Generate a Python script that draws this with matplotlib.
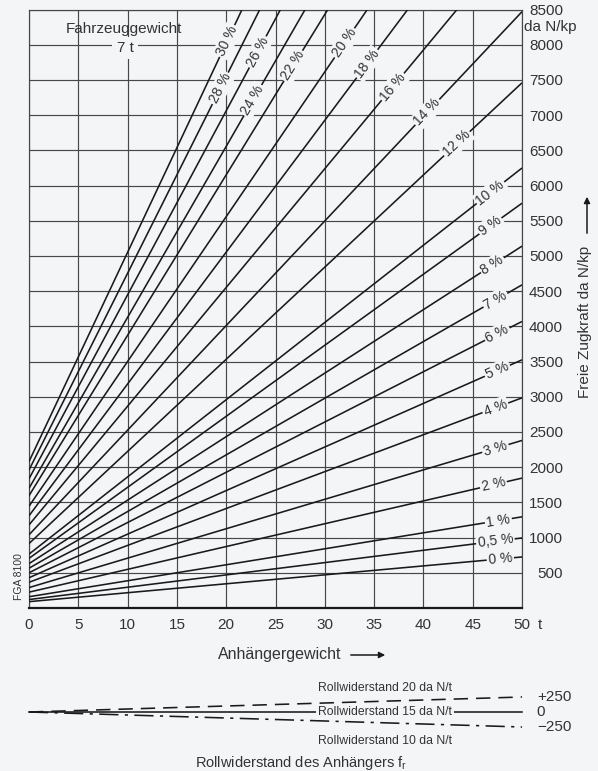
import matplotlib
matplotlib.use('Agg')
import matplotlib.pyplot as plt
import numpy as np

plt.rcParams['font.family'] = ['Liberation Sans', 'DejaVu Sans']

# gradient lines: force at trailer weight 0 and the point where each line ends
grade_labels = ['0 %', '0,5 %', '1 %', '2 %', '3 %', '4 %', '5 %', '6 %', '7 %',
                '8 %', '9 %', '10 %', '12 %', '14 %', '16 %', '18 %', '20 %',
                '22 %', '24 %', '26 %', '28 %', '30 %']
force_at_zero = [90, 120, 160, 225, 290, 365, 430, 500, 565, 630, 705, 765,
                 915, 1040, 1180, 1310, 1445, 1595, 1700, 1835, 1960, 2080]
end_weight = [50, 50, 50, 50, 50, 50, 50, 50, 50, 50, 50, 50, 50, 50,
              43.4, 38.4, 34.3, 30.3, 28.0, 25.5, 23.4, 21.6]
end_force = [725, 995, 1295, 1845, 2380, 2985, 3525, 4070, 4590, 5140, 5750,
             6250, 7460, 8470, 8500, 8500, 8500, 8500, 8500, 8500, 8500, 8500]

# trailer rolling resistance correction (da N at 50 t)
roll_labels = ['Rollwiderstand 20 da N/t', 'Rollwiderstand 15 da N/t',
               'Rollwiderstand 10 da N/t']
roll_correction = [250, 0, -250]
roll_ticks = ['+250', '0', '\u2212250']

x_ticks = [0, 5, 10, 15, 20, 25, 30, 35, 40, 45, 50]
y_ticks = [500, 1000, 1500, 2000, 2500, 3000, 3500, 4000, 4500, 5000, 5500,
           6000, 6500, 7000, 7500, 8000, 8500]

# where the percent labels sit along each line (trailer weight, t)
label_pos = [47.8, 47.3, 47.6, 47.1, 47.3, 47.3, 47.5, 47.5, 47.3, 47.0, 46.8,
             46.8, 43.4, 40.4, 36.9, 34.3, 32.0, 26.8, 22.7, 23.2, 19.4, 20.1]

bg = '#f3f5f7'
ink = '#1a1a1a'
txt = '#333333'
grid_c = '#474747'

W, H = 598, 771
fig = plt.figure(figsize=(W / 100, H / 100), dpi=100, facecolor=bg)

def fx(px):
    return px / W

def fy(py):
    return 1 - py / H

ax = fig.add_axes([fx(29), fy(608), (522 - 29) / W, (608 - 9.6) / H])
ax.set_facecolor(bg)
ax.set_xlim(0, 50)
ax.set_ylim(0, 8500)

ax.set_xticks(x_ticks)
ax.set_yticks(y_ticks)
ax.grid(True, color=grid_c, lw=0.85)
ax.set_axisbelow(True)
ax.tick_params(axis='x', length=0, pad=7, labelsize=11, labelcolor=txt)
ax.yaxis.tick_right()
ax.tick_params(axis='y', length=0, pad=29.5, labelsize=11, labelcolor=txt)
for lab in ax.get_yticklabels():
    lab.set_horizontalalignment('right')

for side in ['left', 'top', 'right']:
    ax.spines[side].set_color(grid_c)
    ax.spines[side].set_linewidth(0.85)
ax.spines['bottom'].set_color(ink)
ax.spines['bottom'].set_linewidth(1.6)

for lab, f0, xe, fe, xl in zip(grade_labels, force_at_zero, end_weight,
                               end_force, label_pos):
    ax.plot([0, xe], [f0, fe], color=ink, lw=1.15, solid_capstyle='butt',
            zorder=3)
    slope = (fe - f0) / xe
    yl = f0 + slope * xl
    ang = np.degrees(np.arctan2(fe - f0, xe))
    ax.text(xl, yl, lab, fontsize=10, color=txt, ha='center', va='center',
            rotation=ang, rotation_mode='anchor', transform_rotates_text=True,
            bbox=dict(facecolor=bg, edgecolor='none', pad=1.2), zorder=4)

ax.text(fx(124), fy(29), 'Fahrzeuggewicht', transform=fig.transFigure,
        fontsize=11, color=txt, ha='center', va='center')
ax.text(fx(125), fy(48), '7 t', transform=fig.transFigure, fontsize=11,
        color=txt, ha='center', va='center',
        bbox=dict(facecolor=bg, edgecolor='none', pad=3), zorder=4)
fig.text(fx(550), fy(27), 'da N/kp', fontsize=11, color=txt,
         ha='center', va='center')
fig.text(fx(540), fy(625), 't', fontsize=11, color=txt,
         ha='center', va='center')
fig.text(fx(19), fy(577), 'FGA 8100', fontsize=7.5, color=txt,
         ha='center', va='center', rotation=90)

fig.text(fx(585), fy(322), 'Freie Zugkraft da N/kp', fontsize=11,
         color=txt, ha='center', va='center', rotation=90)
fig.add_artist(matplotlib.patches.FancyArrowPatch(
    (fx(587), fy(236)), (fx(587), fy(194)), transform=fig.transFigure,
    arrowstyle='-|>', mutation_scale=9, lw=1.1, color=ink))

fig.text(fx(280), fy(654), 'Anhängergewicht', fontsize=11.5, color=txt,
         ha='center', va='center')
fig.add_artist(matplotlib.patches.FancyArrowPatch(
    (fx(348), fy(655)), (fx(388), fy(655)), transform=fig.transFigure,
    arrowstyle='-|>', mutation_scale=9, lw=1.1, color=ink))

# small diagram for trailer rolling resistance
ax2 = fig.add_axes([fx(29), fy(727), (522 - 29) / W, 30 / H])
ax2.set_xlim(0, 50)
ax2.set_ylim(-250, 250)
ax2.axis('off')
styles = [dict(dashes=(9, 5)), dict(), dict(dashes=(12, 4, 2, 4))]
for corr, st, lab, tk in zip(roll_correction, styles, roll_labels, roll_ticks):
    ax2.plot([0, 50], [0, corr], color=ink, lw=1.15, clip_on=False, **st)
    ax2.text(51.5, corr, tk, fontsize=11, color=txt, ha='left',
             va='center', clip_on=False)

ax2.text(29.3, 0, roll_labels[1], fontsize=8.8, color=txt, ha='left',
         va='center', bbox=dict(facecolor=bg, edgecolor='none', pad=1.5),
         zorder=4)
fig.text(fx(318), fy(688), roll_labels[0], fontsize=8.8, color=txt,
         ha='left', va='center')
fig.text(fx(318), fy(741), roll_labels[2], fontsize=8.8, color=txt,
         ha='left', va='center')
fig.text(fx(301), fy(763), 'Rollwiderstand des Anhängers f$_\\mathregular{r}$',
         fontsize=10.5, color=txt, ha='center', va='center')

fig.savefig('out.png', dpi=100, facecolor=bg)
